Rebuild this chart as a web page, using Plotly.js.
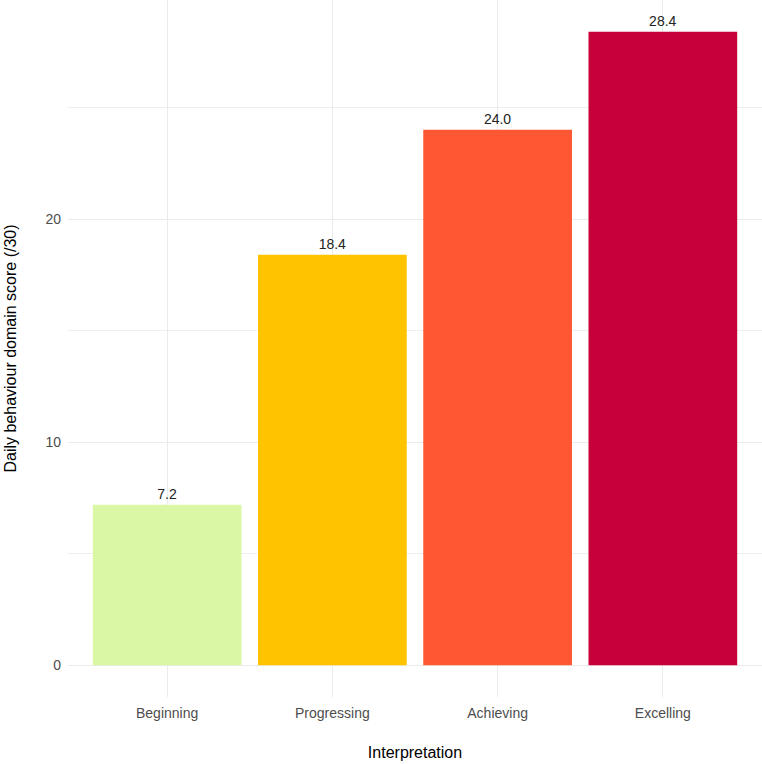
<!DOCTYPE html>
<html>
<head>
<meta charset="utf-8">
<script src="https://cdn.plot.ly/plotly-3.0.1.min.js"></script>
<style>html,body{margin:0;padding:0;background:#fff;}#chart{width:762px;height:764px;}</style>
</head>
<body>
<div id="chart"></div>
<script>
const categories = ["Beginning", "Progressing", "Achieving", "Excelling"];
const scores = [7.2, 18.4, 24.0, 28.4];
const labels = ["7.2", "18.4", "24.0", "28.4"];
const colors = ["#DAF7A6", "#FFC300", "#FF5733", "#C70039"];
const yTicks = [0, 10, 20];

const trace = {
  type: "bar",
  x: categories,
  y: scores,
  width: 0.9,
  marker: {color: colors, line: {width: 0}},
  text: labels,
  textposition: "outside",
  textfont: {family: "Arial, Liberation Sans, sans-serif", size: 14, color: "#222222"},
  cliponaxis: false,
  hoverinfo: "none"
};

const layout = {
  width: 762, height: 764,
  margin: {l: 68, r: 0, t: 0, b: 67},
  paper_bgcolor: "#ffffff",
  plot_bgcolor: "#ffffff",
  showlegend: false,
  font: {family: "Arial, Liberation Sans, sans-serif"},
  xaxis: {
    type: "category",
    range: [-0.6, 3.6],
    showgrid: true, gridcolor: "#EBEBEB", gridwidth: 1,
    zeroline: false, showline: false,
    ticks: "", ticklabelstandoff: 6,
    tickfont: {size: 14, color: "#4D4D4D"},
    title: {text: "Interpretation", font: {size: 16, color: "#000000"}, standoff: 26}
  },
  yaxis: {
    range: [-1.42, 29.82],
    tickvals: yTicks,
    showgrid: true, gridcolor: "#EBEBEB", gridwidth: 1,
    minor: {tickvals: [5, 15, 25], showgrid: true, gridcolor: "#EFEFEF", gridwidth: 1, ticks: ""},
    zeroline: false, showline: false,
    ticks: "", ticklabelstandoff: 6,
    tickfont: {size: 14, color: "#4D4D4D"},
    title: {text: "Daily behaviour domain score (/30)", font: {size: 16, color: "#000000"}, standoff: 24}
  },
  bargap: 0.1
};

Plotly.newPlot("chart", [trace], layout, {staticPlot: true, displayModeBar: false});
</script>
</body>
</html>
